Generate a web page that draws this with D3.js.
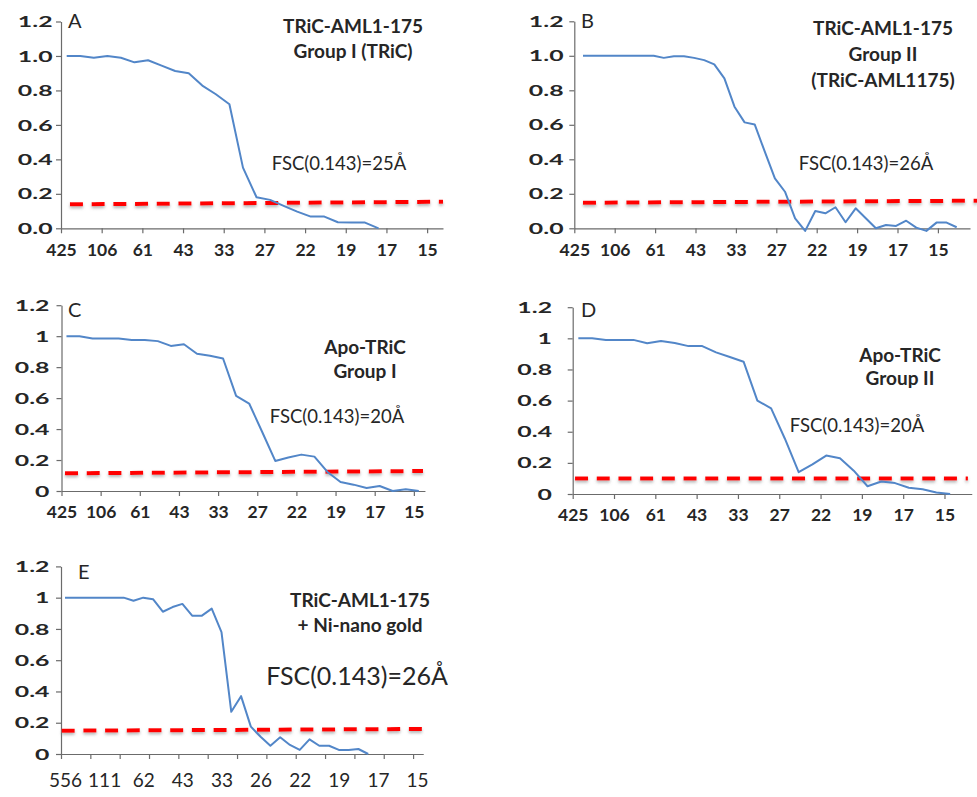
<!DOCTYPE html>
<html>
<head>
<meta charset="utf-8">
<script src="https://cdn.jsdelivr.net/npm/d3@7"></script>
<style>
  body { margin: 0; background: #fff; }
  svg { display: block; }
  text { font-family: Lato, "Open Sans", sans-serif; fill: #262626; }
</style>
</head>
<body>
<svg id="chart" width="977" height="797"></svg>
<script>
// y ticks shared by every panel
const yTicks = [0, 0.2, 0.4, 0.6, 0.8, 1, 1.2];
// resolution labels (Å) on the x axis
const resTicks = ["425", "106", "61", "43", "33", "27", "22", "19", "17", "15"];
const resTicksE = ["556", "111", "62", "43", "33", "26", "22", "19", "17", "15"];

// FSC curves, one value per shell
const fscA = [1.0, 1.0, 0.99, 1.0, 0.99, 0.963, 0.975, 0.944, 0.913, 0.90, 0.828, 0.778, 0.72,
  0.352, 0.18, 0.165, 0.13, 0.097, 0.068, 0.068, 0.035, 0.033, 0.033, 0.0];
const fscB = [1, 1, 1, 1, 1, 1, 1, 1, 0.988, 0.998, 0.998, 0.988, 0.975, 0.95, 0.869, 0.705,
  0.614, 0.602, 0.444, 0.29, 0.212, 0.058, -0.015, 0.10, 0.087, 0.122, 0.035, 0.116, 0.058,
  0.0, 0.019, 0.014, 0.044, 0.004, -0.015, 0.033, 0.033, 0.006];
const fscC = [1.0, 1.0, 0.985, 0.985, 0.985, 0.976, 0.976, 0.968, 0.937, 0.948, 0.886, 0.873,
  0.856, 0.614, 0.565, 0.381, 0.194, 0.216, 0.235, 0.222, 0.123, 0.058, 0.041, 0.019, 0.032,
  0.0, 0.011, 0.0];
const fscD = [1.0, 1.0, 0.99, 0.99, 0.99, 0.968, 0.983, 0.97, 0.95, 0.95, 0.91, 0.88, 0.85,
  0.60, 0.55, 0.355, 0.14, 0.19, 0.247, 0.23, 0.15, 0.05, 0.08, 0.07, 0.04, 0.03, 0.01, 0.0];
const fscE = [1, 1, 1, 1, 1, 1, 1, 0.98, 1.0, 0.99, 0.91, 0.94, 0.96, 0.885, 0.885, 0.93, 0.78,
  0.27, 0.37, 0.175, 0.11, 0.053, 0.107, 0.058, 0.026, 0.094, 0.053, 0.053, 0.026, 0.026,
  0.032, 0.0];

// hand-drawn 0.143 cut-off line (value at left end, value at right end)
const cutA = [0.139, 0.154];
const cutB = [0.148, 0.16];
const cutC = [0.114, 0.129];
const cutD = [0.10, 0.10];
const cutE = [0.149, 0.16];

const letters = ["A", "B", "C", "D", "E"];
const titles = [
  ["TRiC-AML1-175", "Group I (TRiC)"],
  ["TRiC-AML1-175", "Group II", "(TRiC-AML1175)"],
  ["Apo-TRiC", "Group I"],
  ["Apo-TRiC", "Group II"],
  ["TRiC-AML1-175", "+ Ni-nano gold"]
];
const fscLabels = ["FSC(0.143)=25Å", "FSC(0.143)=26Å", "FSC(0.143)=20Å", "FSC(0.143)=20Å", "FSC(0.143)=26Å"];

// layout of each panel (pixels / category units)
const panels = [
  { data: fscA, cut: cutA, ax: 61, nCat: 28.17, pOff: 0.42, tickEvery: 3, y0: 228.3, y1: 21.5,
    cutFrom: 0.66, cutTo: 28.17, yFmt: d3.format(".1f"), yLabRight: 52.5, labs: resTicks,
    letter: [68, 28], title: [353, 33, 25], fsc: [339, 170, 18.5] },
  { data: fscB, cut: cutB, ax: 574.3, nCat: 39.18, pOff: 0.86, tickEvery: 4, y0: 228.3, y1: 21.3,
    cutFrom: 0.86, cutTo: 39.9, yFmt: d3.format(".1f"), yLabRight: 563.5, labs: resTicks,
    letter: [581, 28], title: [883, 35, 26], fsc: [866, 170, 18.5] },
  { data: fscC, cut: cutC, ax: 61.5, nCat: 27.85, pOff: 0.38, tickEvery: 3, y0: 491, y1: 305.2,
    cutFrom: 0.27, cutTo: 27.7, yFmt: String, yLabRight: 49.5, labs: resTicks,
    letter: [68, 317], title: [365, 354, 23.5], fsc: [337, 423, 18.5] },
  { data: fscD, cut: cutD, ax: 572.7, nCat: 28.98, pOff: 0.41, tickEvery: 3, y0: 494, y1: 307.2,
    cutFrom: 0.17, cutTo: 28.7, yFmt: String, yLabRight: 552, labs: resTicks,
    letter: [581, 317], title: [900, 361.5, 23.5], fsc: [857, 431.5, 18.5] },
  { data: fscE, cut: cutE, ax: 61, nCat: 37.04, pOff: 0.41, tickEvery: 3, y0: 754, y1: 566.4,
    cutFrom: 0.07, cutTo: 37.04, yFmt: String, yLabRight: 49.5, labs: resTicksE, labEvery: 4,
    letter: [78, 579], title: [360, 607, 25], fsc: [357, 685, 25] }
];
const steps = [13.56, 10.1, 13.05, 13.77, 9.78];

const svg = d3.select("#chart");

// soft grey shadow under the red dashes; user space so a flat line still gets it
svg.append("defs").append("filter")
    .attr("id", "shadow")
    .attr("filterUnits", "userSpaceOnUse")
    .attr("x", 0).attr("y", 0).attr("width", 977).attr("height", 797)
  .append("feDropShadow")
    .attr("dx", 0).attr("dy", 2).attr("stdDeviation", 1.4)
    .attr("flood-color", "#777").attr("flood-opacity", 0.55);

panels.forEach((p, i) => {
    const g = svg.append("g");
    const x = d3.scaleLinear()
        .domain([0, p.nCat])
        .range([p.ax, p.ax + p.nCat * steps[i]]);
    const y = d3.scaleLinear()
        .domain([0, 1.2])
        .range([p.y0, p.y1]);

    // y axis (labels are drawn wide in the original)
    const yAxis = g.append("g")
        .attr("transform", "translate(" + p.ax + ",0)")
        .call(d3.axisLeft(y).tickValues(yTicks).tickSize(5).tickSizeOuter(0).tickFormat(p.yFmt));
    yAxis.selectAll("text")
        .attr("x", -(p.ax - p.yLabRight) / 1.55)
        .attr("transform", "scale(1.55,1)")
        .style("font-size", "16px")
        .style("font-weight", "700");

    // x axis
    const tickVals = d3.range(0, 10 * (p.labEvery ? 4 : p.tickEvery) - 1, p.tickEvery)
        .filter(v => v <= p.nCat);
    const xAxis = g.append("g")
        .attr("transform", "translate(0," + p.y0 + ")")
        .call(d3.axisBottom(x).tickValues(tickVals).tickSize(5).tickSizeOuter(0)
            .tickFormat((d, j) => p.labEvery ? "" : p.labs[j]));
    xAxis.selectAll("text")
        .attr("y", 15)
        .style("font-size", "17.5px")
        .style("font-weight", "700");

    // panel E: labels sit on every 4th shell, ticks on every 3rd
    if (p.labEvery) {
        const labAxis = g.append("g")
            .attr("transform", "translate(0," + p.y0 + ")")
            .call(d3.axisBottom(x)
                .tickValues(p.labs.map((d, j) => j * p.labEvery + p.pOff))
                .tickSize(0)
                .tickFormat((d, j) => p.labs[j]));
        labAxis.select(".domain").remove();
        labAxis.selectAll("text")
            .attr("y", 20)
            .style("font-size", "19px");
    }

    g.selectAll(".domain, .tick line")
        .attr("stroke", "#6b6b6b")
        .attr("stroke-width", 1.2);

    // 0.143 cut-off
    g.append("line")
        .attr("x1", x(p.cutFrom)).attr("x2", x(p.cutTo))
        .attr("y1", y(p.cut[0])).attr("y2", y(p.cut[1]))
        .attr("stroke", "#ff0000")
        .attr("stroke-width", 4)
        .attr("stroke-dasharray", "13,8.7")
        .attr("filter", "url(#shadow)");

    // FSC curve
    const line = d3.line()
        .x((d, k) => x(k + p.pOff))
        .y(d => y(d));
    g.append("path")
        .datum(p.data)
        .attr("fill", "none")
        .attr("stroke", "#5286c8")
        .attr("stroke-width", 2)
        .attr("stroke-linejoin", "round")
        .attr("d", line);

    // panel letter
    g.append("text")
        .attr("x", p.letter[0]).attr("y", p.letter[1])
        .style("font-size", "20px")
        .text(letters[i]);

    // title
    g.append("text")
        .attr("text-anchor", "middle")
        .style("font-size", "19px")
        .style("font-weight", "700")
        .selectAll("tspan")
        .data(titles[i])
        .enter().append("tspan")
        .attr("x", p.title[0])
        .attr("y", (d, j) => p.title[1] + j * p.title[2])
        .text(d => d);

    // resolution at 0.143
    g.append("text")
        .attr("x", p.fsc[0]).attr("y", p.fsc[1])
        .attr("text-anchor", "middle")
        .style("font-size", p.fsc[2] + "px")
        .text(fscLabels[i]);
});
</script>
</body>
</html>
